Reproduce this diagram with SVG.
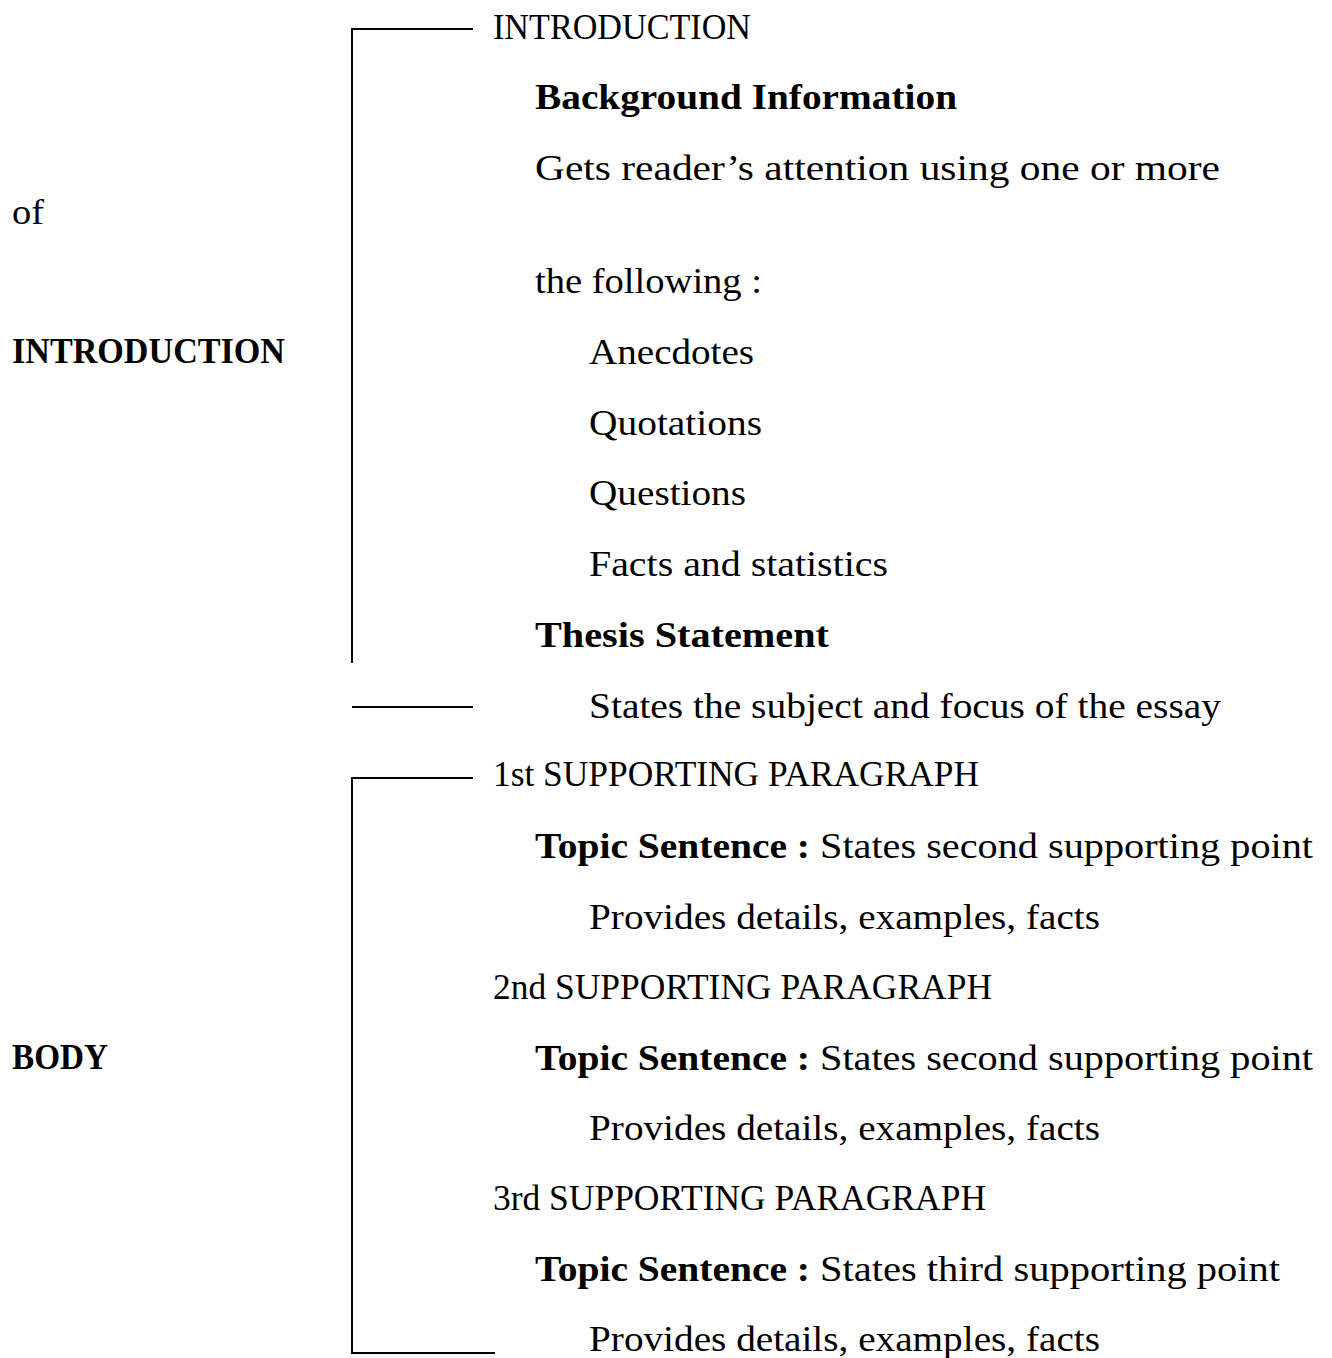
<svg xmlns="http://www.w3.org/2000/svg" width="1332" height="1358" viewBox="0 0 1332 1358">
<style>
text{font-family:"Liberation Serif","Times New Roman",serif;font-size:35px;fill:#000}
.b{font-weight:bold}
.ln{stroke:#000;stroke-width:2;fill:none}
</style>
<rect width="1332" height="1358" fill="#fff"/>
<g id="connectors">
<path class="ln" d="M473 29 H352 V663"/>
<path class="ln" d="M352 707 H473"/>
<path class="ln" d="M473 778 H352 V1353 H495"/>
</g>
<g id="left-labels">
<g id="lbl-of"><text x="12" y="224" textLength="32" lengthAdjust="spacingAndGlyphs">of</text></g>
<g id="lbl-introduction"><text class="b" x="12" y="363" textLength="273" lengthAdjust="spacingAndGlyphs">INTRODUCTION</text></g>
<g id="lbl-body"><text class="b" x="12" y="1069" textLength="96" lengthAdjust="spacingAndGlyphs">BODY</text></g>
</g>
<g id="introduction">
<g id="intro-head"><text x="493" y="39" textLength="258" lengthAdjust="spacingAndGlyphs">INTRODUCTION</text></g>
<g id="background"><text class="b" x="535" y="109" textLength="422" lengthAdjust="spacingAndGlyphs">Background Information</text></g>
<g id="gets"><text x="535" y="180" textLength="685" lengthAdjust="spacingAndGlyphs">Gets reader’s attention using one or more</text></g>
<g id="following"><text x="535" y="293" textLength="227" lengthAdjust="spacingAndGlyphs">the following :</text></g>
<g id="anecdotes"><text x="589" y="364" textLength="165" lengthAdjust="spacingAndGlyphs">Anecdotes</text></g>
<g id="quotations"><text x="589" y="435" textLength="173" lengthAdjust="spacingAndGlyphs">Quotations</text></g>
<g id="questions"><text x="589" y="505" textLength="157" lengthAdjust="spacingAndGlyphs">Questions</text></g>
<g id="facts"><text x="589" y="576" textLength="299" lengthAdjust="spacingAndGlyphs">Facts and statistics</text></g>
<g id="thesis"><text class="b" x="535" y="647" textLength="294" lengthAdjust="spacingAndGlyphs">Thesis Statement</text></g>
<g id="states"><text x="589" y="718" textLength="632" lengthAdjust="spacingAndGlyphs">States the subject and focus of the essay</text></g>
</g>
<g id="body">
<g id="p1-head"><text x="493" y="786" textLength="486" lengthAdjust="spacingAndGlyphs">1st SUPPORTING PARAGRAPH</text></g>
<g id="p1-topic"><text y="858"><tspan class="b" x="535" textLength="275" lengthAdjust="spacingAndGlyphs">Topic Sentence :</tspan><tspan x="820" textLength="493" lengthAdjust="spacingAndGlyphs">States second supporting point</tspan></text></g>
<g id="p1-details"><text x="589" y="929" textLength="511" lengthAdjust="spacingAndGlyphs">Provides details, examples, facts</text></g>
<g id="p2-head"><text x="493" y="999" textLength="499" lengthAdjust="spacingAndGlyphs">2nd SUPPORTING PARAGRAPH</text></g>
<g id="p2-topic"><text y="1070"><tspan class="b" x="535" textLength="275" lengthAdjust="spacingAndGlyphs">Topic Sentence :</tspan><tspan x="820" textLength="493" lengthAdjust="spacingAndGlyphs">States second supporting point</tspan></text></g>
<g id="p2-details"><text x="589" y="1140" textLength="511" lengthAdjust="spacingAndGlyphs">Provides details, examples, facts</text></g>
<g id="p3-head"><text x="493" y="1210" textLength="493" lengthAdjust="spacingAndGlyphs">3rd SUPPORTING PARAGRAPH</text></g>
<g id="p3-topic"><text y="1281"><tspan class="b" x="535" textLength="275" lengthAdjust="spacingAndGlyphs">Topic Sentence :</tspan><tspan x="820" textLength="460" lengthAdjust="spacingAndGlyphs">States third supporting point</tspan></text></g>
<g id="p3-details"><text x="589" y="1351" textLength="511" lengthAdjust="spacingAndGlyphs">Provides details, examples, facts</text></g>
</g>
</svg>
